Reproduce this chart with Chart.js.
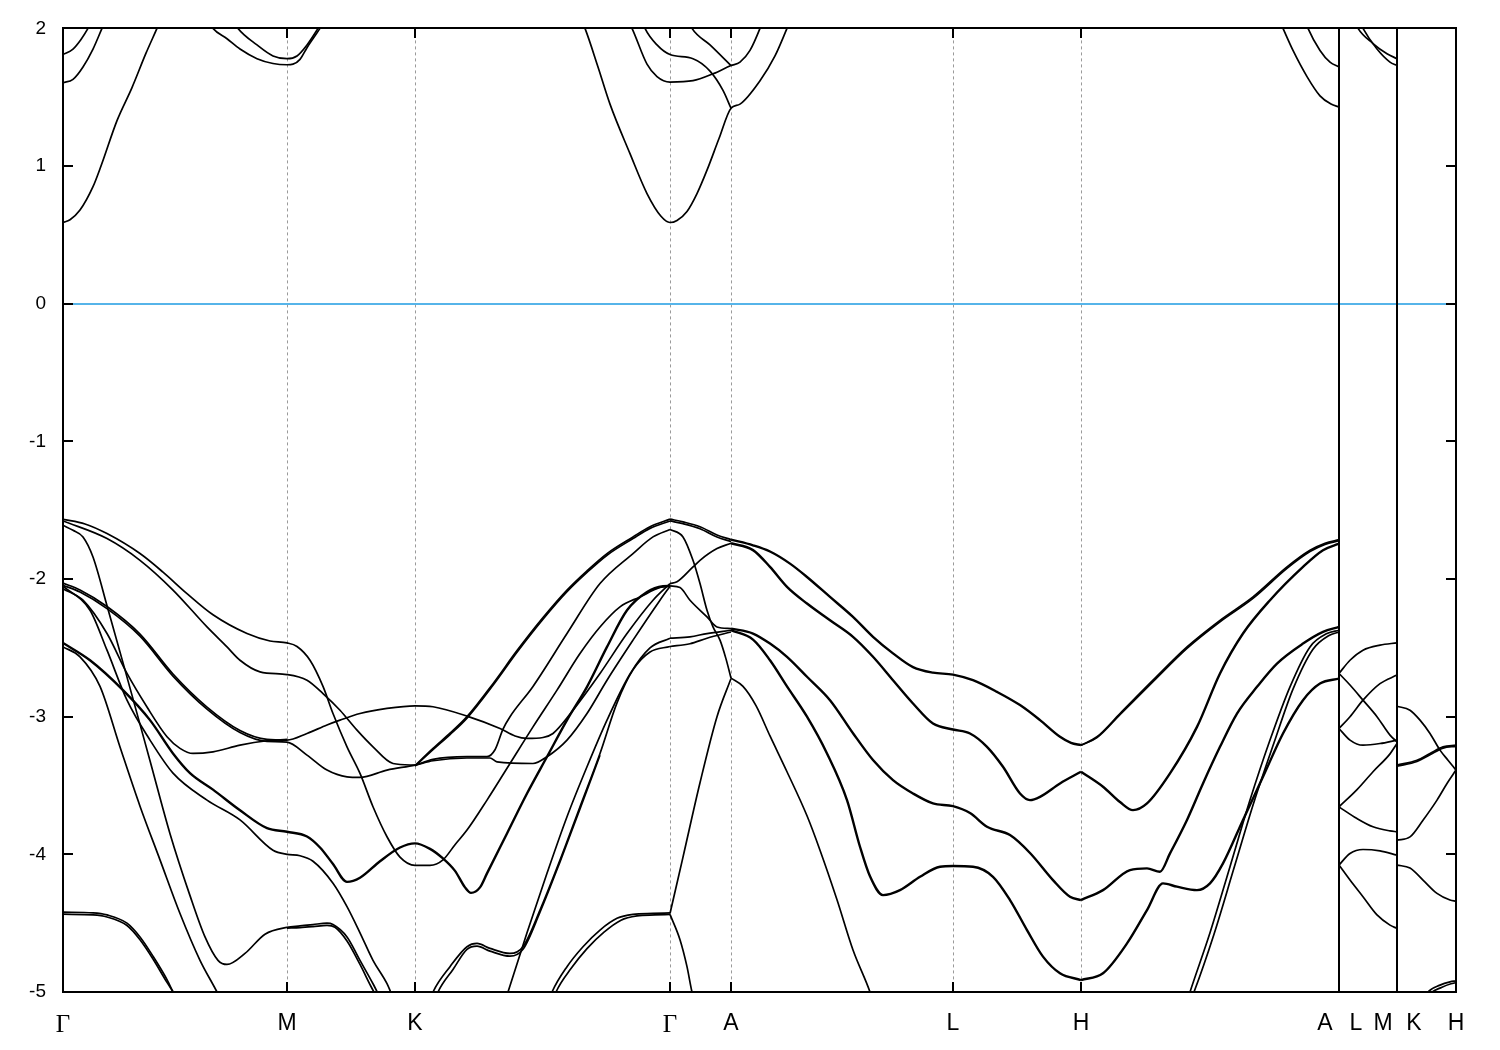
<!DOCTYPE html>
<html><head><meta charset="utf-8">
<script src="https://cdn.jsdelivr.net/npm/chart.js@4.4.1/dist/chart.umd.min.js"></script>
<style>html,body{margin:0;padding:0;background:#fff;}canvas{display:block;}</style>
</head><body>
<canvas id="c" width="1500" height="1050" style="width:1500px;height:1050px"></canvas>
<script>
// k-path (arbitrary path-length units) and labels
const kTicks = [0, 224, 352, 607, 668, 890, 1018, 1276, 1334, 1393];
const kLabels = ['Γ','M','K','Γ','A','L','H','A|L','M|K','H'];
const pathBreaks = [1276, 1334];
const fermi = 0;
const eTicks = [-5, -4, -3, -2, -1, 0, 1, 2];

// conduction bands [k, E(eV)]
const cb1 = [[0,0.59],[7,0.61],[17,0.68],[30,0.85],[38,1.0],[54,1.33],[69,1.57],[83,1.82],[94,2.0],[100,2.1]];
const cb2 = [[0,1.605],[10,1.63],[20,1.72],[30,1.85],[39,2.0],[44,2.08]];
const cb3 = [[0,1.81],[10,1.85],[18,1.92],[25,2.0],[30,2.07]];
const cb4 = [[145,2.06],[150,2.0],[164,1.925],[177,1.85],[194,1.78],[210,1.745],[224,1.736],[230,1.74],[237,1.775],[244,1.86],[257,2.0],[262,2.06]];
const cb5 = [[170,2.06],[175,2.0],[194,1.88],[210,1.80],[224,1.78],[234,1.80],[244,1.88],[255,2.0],[260,2.06]];
const cb6 = [[517,2.08],[522,2.0],[535,1.72],[547,1.45],[567,1.09],[584,0.80],[598,0.635],[607,0.59],[614,0.605],[624,0.67],[634,0.80],[644,0.97],[656,1.2],[668,1.42],[677,1.45],[697,1.62],[712,1.8],[724,2.0],[728,2.07]];
const cb7 = [[563,2.08],[569,2.0],[584,1.74],[594,1.65],[607,1.61],[630,1.62],[650,1.67],[668,1.73],[677,1.755],[687,1.84],[697,2.0],[700,2.06]];
const cb8 = [[578,2.08],[582,2.0],[594,1.88],[607,1.81],[630,1.78],[647,1.69],[660,1.55],[668,1.42]];
const cb9 = [[624,2.08],[629,2.0],[647,1.88],[668,1.73]];
const cb10 = [[1215,2.08],[1220,2.0],[1230,1.84],[1244,1.65],[1257,1.51],[1268,1.45],[1276,1.43]];
const cb11 = [[1241,2.08],[1245,2.0],[1257,1.84],[1267,1.755],[1276,1.72]];
const cb12 = [[1290,2.08],[1295,2.0],[1310,1.89],[1324,1.816],[1334,1.78]];
const cb13 = [[1295,2.08],[1300,2.0],[1314,1.85],[1327,1.755],[1334,1.73]];

// valence bands [k, E(eV)]
const v01 = [[0,-1.566],[22,-1.6],[44,-1.67],[77,-1.815],[100,-1.95],[124,-2.106],[150,-2.26],[184,-2.396],[207,-2.45],[224,-2.464],[234,-2.49],[247,-2.59],[260,-2.78],[270,-2.977],[284,-3.219],[297,-3.412],[310,-3.654],[324,-3.872],[337,-4.02],[352,-4.08],[367,-4.08],[380,-4.04],[392,-3.93],[404,-3.824],[424,-3.606],[447,-3.34],[470,-3.074],[494,-2.807],[517,-2.541],[537,-2.348],[557,-2.202],[577,-2.13],[597,-2.062],[607,-2.05]];
const v02 = [[0,-1.578],[44,-1.706],[77,-1.864],[110,-2.08],[144,-2.348],[164,-2.493],[177,-2.59],[197,-2.674],[224,-2.694],[244,-2.735],[260,-2.832],[277,-2.953],[294,-3.098],[310,-3.219],[330,-3.34],[352,-3.352]];
const v03 = [[0,-1.61],[10,-1.646],[20,-1.694],[30,-1.84],[45,-2.22],[62,-2.66],[87,-3.32],[107,-3.85],[127,-4.3],[142,-4.6],[155,-4.77],[164,-4.80],[182,-4.72],[202,-4.58],[224,-4.53],[237,-4.52],[250,-4.51],[264,-4.50],[270,-4.51],[284,-4.6],[297,-4.77],[310,-4.94],[317,-5.04]];
const v04 = [[224,-4.536],[237,-4.532],[250,-4.525],[264,-4.516],[272,-4.53],[284,-4.63],[297,-4.8],[308,-4.96],[314,-5.04]];
const v05 = [[0,-2.03],[17,-2.08],[44,-2.2],[77,-2.40],[110,-2.69],[144,-2.93],[177,-3.10],[204,-3.165],[224,-3.17],[244,-3.122],[264,-3.06],[277,-3.025],[297,-2.977],[324,-2.94],[352,-2.921],[370,-2.928],[404,-2.996],[437,-3.086],[452,-3.14],[464,-3.158],[480,-3.151],[490,-3.122],[510,-2.953],[537,-2.686],[564,-2.396],[590,-2.154],[607,-2.033]];
const v06 = [[0,-2.045],[17,-2.095],[44,-2.215],[77,-2.415],[110,-2.705],[144,-2.945],[177,-3.115],[204,-3.18],[224,-3.185],[244,-3.279],[264,-3.388],[284,-3.437],[297,-3.441],[324,-3.388],[352,-3.352],[370,-3.32],[404,-3.30],[427,-3.30],[434,-3.328],[470,-3.34],[484,-3.291],[504,-3.17],[524,-2.977],[544,-2.735],[570,-2.444],[597,-2.154],[607,-2.052]];
const v07 = [[0,-2.07],[20,-2.154],[44,-2.396],[64,-2.686],[84,-2.93],[104,-3.146],[117,-3.23],[130,-3.267],[150,-3.255],[177,-3.207],[204,-3.175],[224,-3.165]];
const v08 = [[0,-2.464],[27,-2.59],[60,-2.807],[87,-3.025],[110,-3.267],[127,-3.41],[150,-3.53],[177,-3.68],[204,-3.81],[224,-3.836],[244,-3.87],[257,-3.95],[270,-4.07],[284,-4.2],[297,-4.17],[317,-4.05],[337,-3.95],[352,-3.92],[367,-3.96],[380,-4.03],[392,-4.12],[402,-4.24],[408,-4.28],[417,-4.24],[424,-4.138],[444,-3.848],[464,-3.558],[484,-3.291],[504,-3.025],[524,-2.783],[544,-2.493],[564,-2.227],[584,-2.094],[600,-2.052],[607,-2.05]];
const v09 = [[0,-2.052],[27,-2.227],[44,-2.517],[64,-2.88],[87,-3.17],[110,-3.41],[144,-3.606],[177,-3.75],[210,-3.97],[224,-4.0],[237,-4.01],[250,-4.05],[270,-4.21],[284,-4.38],[297,-4.57],[310,-4.77],[324,-4.94],[330,-5.04]];
const v10 = [[0,-2.493],[17,-2.565],[37,-2.78],[57,-3.22],[77,-3.65],[97,-4.04],[117,-4.43],[137,-4.77],[154,-5.0],[158,-5.06]];
const v11 = [[0,-4.42],[30,-4.425],[44,-4.44],[64,-4.50],[77,-4.60],[90,-4.74],[104,-4.91],[110,-5.0],[114,-5.06]];
const v12 = [[0,-4.435],[30,-4.44],[44,-4.455],[64,-4.517],[77,-4.62],[90,-4.76],[104,-4.93],[112,-5.02],[116,-5.07]];
const v13 = [[352,-3.355],[370,-3.23],[387,-3.12],[404,-3.0],[430,-2.76],[454,-2.52],[480,-2.28],[504,-2.08],[524,-1.94],[544,-1.815],[570,-1.694],[587,-1.62],[607,-1.565]];
const v14 = [[352,-3.36],[370,-3.24],[387,-3.13],[404,-3.01],[430,-2.772],[454,-2.532],[480,-2.292],[504,-2.092],[524,-1.952],[544,-1.827],[570,-1.706],[587,-1.632],[607,-1.578]];
const v15 = [[352,-3.355],[370,-3.31],[404,-3.29],[424,-3.29],[432,-3.24],[440,-3.09],[447,-3.0],[470,-2.78],[504,-2.396],[537,-2.033],[570,-1.815],[590,-1.694],[607,-1.64]];
const v16 = [[367,-5.06],[370,-5.0],[387,-4.816],[404,-4.671],[414,-4.647],[427,-4.683],[447,-4.72],[460,-4.671],[477,-4.405],[497,-4.042],[517,-3.654],[537,-3.267],[554,-2.90],[570,-2.66],[587,-2.53],[607,-2.49]];
const v17 = [[372,-5.06],[375,-5.0],[390,-4.836],[404,-4.69],[414,-4.667],[427,-4.703],[447,-4.74],[460,-4.69],[477,-4.42],[497,-4.055],[517,-3.67],[537,-3.28]];
const v18 = [[442,-5.07],[445,-5.0],[464,-4.57],[484,-4.138],[504,-3.727],[524,-3.364],[544,-3.025],[567,-2.69],[587,-2.5],[607,-2.43]];
const v19 = [[486,-5.06],[489,-5.0],[504,-4.816],[520,-4.671],[537,-4.55],[554,-4.465],[570,-4.436],[590,-4.429],[607,-4.425]];
const v20 = [[490,-5.06],[493,-5.0],[508,-4.83],[524,-4.685],[541,-4.565],[558,-4.478],[574,-4.447],[592,-4.44],[607,-4.436]];
const v21 = [[607,-1.565],[620,-1.585],[637,-1.62],[654,-1.68],[668,-1.714]];
const v22 = [[607,-1.578],[620,-1.598],[637,-1.635],[654,-1.695],[668,-1.728]];
const v23 = [[607,-1.64],[620,-1.694],[630,-1.864],[637,-2.033],[644,-2.227],[650,-2.348],[657,-2.444],[663,-2.58],[668,-2.72]];
const v24 = [[607,-2.033],[614,-2.02],[630,-1.912],[637,-1.864],[654,-1.779],[668,-1.74]];
const v25 = [[607,-2.05],[617,-2.062],[627,-2.154],[644,-2.275],[654,-2.348],[668,-2.36]];
const v26 = [[607,-2.43],[627,-2.42],[644,-2.396],[668,-2.372]];
const v27 = [[607,-2.49],[627,-2.47],[644,-2.43],[668,-2.385]];
const v28 = [[607,-4.43],[620,-4.02],[637,-3.48],[654,-3.0],[668,-2.723]];
const v29 = [[607,-4.436],[617,-4.62],[624,-4.816],[629,-5.0],[632,-5.07]];
const v30 = [[668,-1.714],[690,-1.755],[707,-1.80],[727,-1.888],[744,-1.985],[767,-2.13],[790,-2.275],[810,-2.42],[830,-2.54],[850,-2.64],[870,-2.68],[890,-2.694],[910,-2.735],[934,-2.82],[957,-2.916],[977,-3.025],[997,-3.146],[1008,-3.19],[1018,-3.207]];
const v31 = [[668,-1.74],[690,-1.79],[707,-1.912],[724,-2.057],[744,-2.178],[767,-2.30],[790,-2.42],[810,-2.565],[830,-2.735],[850,-2.904],[870,-3.05],[890,-3.093],[907,-3.122],[924,-3.219],[940,-3.364],[957,-3.558],[967,-3.606],[977,-3.582],[997,-3.485],[1018,-3.40]];
const v32 = [[668,-2.36],[690,-2.396],[707,-2.469],[724,-2.565],[744,-2.71],[767,-2.88],[790,-3.12],[810,-3.315],[830,-3.461],[850,-3.558],[870,-3.63],[890,-3.65],[907,-3.70],[924,-3.80],[947,-3.86],[967,-3.99],[990,-4.187],[1007,-4.308],[1018,-4.332]];
const v33 = [[668,-2.372],[690,-2.44],[707,-2.59],[724,-2.78],[744,-3.0],[764,-3.267],[784,-3.606],[797,-3.945],[807,-4.16],[820,-4.296],[837,-4.26],[857,-4.163],[877,-4.09],[890,-4.085],[910,-4.09],[930,-4.163],[947,-4.332],[964,-4.55],[980,-4.743],[997,-4.864],[1018,-4.913]];
const v34 = [[668,-2.72],[680,-2.78],[693,-2.92],[707,-3.14],[724,-3.4],[744,-3.72],[757,-3.97],[774,-4.33],[790,-4.695],[807,-5.0],[810,-5.07]];
const v35 = [[1018,-3.207],[1034,-3.146],[1057,-2.977],[1090,-2.735],[1124,-2.493],[1157,-2.30],[1190,-2.13],[1224,-1.912],[1247,-1.791],[1262,-1.74],[1276,-1.714]];
const v36 = [[1018,-3.207],[1034,-3.152],[1057,-2.985],[1090,-2.745],[1124,-2.503],[1157,-2.31],[1190,-2.14],[1224,-1.922],[1247,-1.80],[1262,-1.748],[1276,-1.722]];
const v37 = [[1018,-3.40],[1040,-3.509],[1057,-3.62],[1070,-3.679],[1084,-3.63],[1107,-3.412],[1134,-3.074],[1157,-2.686],[1180,-2.396],[1207,-2.154],[1240,-1.912],[1260,-1.791],[1276,-1.743]];
const v38 = [[1018,-4.332],[1040,-4.26],[1067,-4.114],[1084,-4.102],[1097,-4.126],[1107,-3.993],[1124,-3.75],[1140,-3.485],[1157,-3.219],[1174,-2.977],[1194,-2.783],[1214,-2.614],[1240,-2.469],[1260,-2.384],[1276,-2.348]];
const v39 = [[1018,-4.913],[1040,-4.864],[1064,-4.647],[1084,-4.405],[1100,-4.211],[1114,-4.235],[1134,-4.26],[1147,-4.211],[1160,-4.066],[1180,-3.75],[1200,-3.437],[1220,-3.122],[1240,-2.88],[1257,-2.759],[1276,-2.723]];
const v40 = [[1124,-5.07],[1127,-5.0],[1147,-4.57],[1167,-4.09],[1187,-3.606],[1207,-3.17],[1227,-2.783],[1247,-2.493],[1264,-2.396],[1276,-2.372]];
const v41 = [[1127,-5.07],[1131,-5.0],[1151,-4.58],[1171,-4.1],[1191,-3.62],[1211,-3.19],[1230,-2.80],[1250,-2.51],[1266,-2.41],[1276,-2.385]];
const v42 = [[1276,-2.686],[1287,-2.59],[1300,-2.517],[1317,-2.48],[1334,-2.464]];
const v43 = [[1276,-2.686],[1287,-2.77],[1300,-2.88],[1314,-3.0],[1327,-3.134],[1334,-3.183]];
const v44 = [[1276,-3.086],[1287,-3.0],[1300,-2.88],[1317,-2.76],[1334,-2.698]];
const v45 = [[1276,-3.086],[1287,-3.17],[1300,-3.207],[1317,-3.195],[1334,-3.17]];
const v46 = [[1276,-3.655],[1294,-3.53],[1310,-3.40],[1327,-3.27],[1334,-3.195]];
const v47 = [[1276,-3.655],[1294,-3.74],[1310,-3.80],[1327,-3.83],[1334,-3.836]];
const v48 = [[1276,-4.078],[1287,-3.994],[1300,-3.965],[1317,-3.975],[1334,-4.006]];
const v49 = [[1276,-4.078],[1287,-4.187],[1300,-4.308],[1314,-4.44],[1327,-4.514],[1334,-4.538]];
const v50 = [[1334,-2.924],[1347,-2.953],[1357,-3.025],[1367,-3.122],[1377,-3.243],[1385,-3.316],[1393,-3.388]];
const v51 = [[1334,-3.352],[1354,-3.316],[1367,-3.267],[1380,-3.219],[1393,-3.207]];
const v52 = [[1334,-3.36],[1354,-3.325],[1367,-3.277],[1380,-3.228],[1393,-3.215]];
const v53 = [[1334,-3.897],[1347,-3.873],[1360,-3.752],[1374,-3.606],[1384,-3.485],[1393,-3.388]];
const v54 = [[1334,-4.078],[1347,-4.10],[1360,-4.187],[1374,-4.284],[1387,-4.332],[1393,-4.34]];
const v55 = [[1361,-5.06],[1364,-5.01],[1377,-4.95],[1387,-4.926],[1393,-4.92]];
const v56 = [[1362,-5.07],[1366,-5.02],[1379,-4.965],[1388,-4.94],[1393,-4.932]];

const bands = [cb1,cb2,cb3,cb4,cb5,cb6,cb7,cb8,cb9,cb10,cb11,cb12,cb13,
  v01,v02,v03,v04,v05,v06,v07,v08,v09,v10,v11,v12,v13,v14,v15,v16,v17,v18,v19,v20,
  v21,v22,v23,v24,v25,v26,v27,v28,v29,v30,v31,v32,v33,v34,v35,v36,v37,v38,v39,v40,
  v41,v42,v43,v44,v45,v46,v47,v48,v49,v50,v51,v52,v53,v54,v55,v56];
// near-degenerate (visually heavier) bands
const heavyBands = [v30, v31, v32, v33, v37, v38, v39, v08];

// tick label entries (split labels for path discontinuities)
const splitGap = [14, 17];
const xTickList = [];
kTicks.forEach((k, i) => {
  const parts = kLabels[i].split('|');
  if (parts.length === 1) xTickList.push({k: k, label: parts[0]});
  else { xTickList.push({k: k - splitGap[0], label: parts[0]}); xTickList.push({k: k + splitGap[1], label: parts[1]}); }
});

const datasets = bands.map(b => ({
  data: b.map(p => ({x: p[0], y: p[1]})),
  borderColor: '#000', borderWidth: heavyBands.includes(b) ? 2.4 : 1.7, pointRadius: 0, fill: false,
  cubicInterpolationMode: 'monotone'
}));

const decor = {
  id: 'decor',
  beforeDatasetsDraw(chart) {
    const {ctx, chartArea: a, scales: {x, y}} = chart;
    ctx.save();
    ctx.strokeStyle = '#9a9a9a'; ctx.lineWidth = 1; ctx.setLineDash([3, 3]);
    kTicks.forEach(k => {
      if (pathBreaks.includes(k) || k === kTicks[0] || k === kTicks[kTicks.length - 1]) return;
      const px = Math.round(x.getPixelForValue(k)) + 0.5;
      ctx.beginPath(); ctx.moveTo(px, a.top); ctx.lineTo(px, a.bottom); ctx.stroke();
    });
    ctx.setLineDash([]);
    ctx.strokeStyle = '#56b4e9'; ctx.lineWidth = 2;
    const py = Math.round(y.getPixelForValue(fermi));
    ctx.beginPath(); ctx.moveTo(a.left, py); ctx.lineTo(a.right, py); ctx.stroke();
    ctx.restore();
  },
  afterDatasetsDraw(chart) {
    const {ctx, chartArea: a, scales: {x, y}} = chart;
    ctx.save();
    ctx.strokeStyle = '#000'; ctx.lineWidth = 2; ctx.setLineDash([]);
    pathBreaks.forEach(k => {
      const px = Math.round(x.getPixelForValue(k));
      ctx.beginPath(); ctx.moveTo(px, a.top); ctx.lineTo(px, a.bottom); ctx.stroke();
    });
    const L = Math.round(a.left), R = Math.round(a.right), T = Math.round(a.top), B = Math.round(a.bottom);
    ctx.strokeRect(L, T, R - L, B - T);
    const tl = 10;
    eTicks.forEach(e => {
      const py = Math.round(y.getPixelForValue(e));
      ctx.beginPath(); ctx.moveTo(L, py); ctx.lineTo(L + tl, py); ctx.moveTo(R, py); ctx.lineTo(R - tl, py); ctx.stroke();
    });
    kTicks.forEach(k => {
      const px = Math.round(x.getPixelForValue(k));
      ctx.beginPath(); ctx.moveTo(px, B); ctx.lineTo(px, B - tl); ctx.moveTo(px, T); ctx.lineTo(px, T + tl); ctx.stroke();
    });
    ctx.restore();
  }
};

new Chart(document.getElementById('c'), {
  type: 'line',
  data: {datasets},
  options: {
    responsive: false, animation: false, devicePixelRatio: 1,
    layout: {padding: {left: 0, right: 44, top: 28, bottom: 0}},
    plugins: {legend: {display: false}, tooltip: {enabled: false}},
    scales: {
      x: {
        type: 'linear', min: 0, max: kTicks[kTicks.length - 1],
        grid: {display: false, drawTicks: false}, border: {display: false},
        afterBuildTicks: s => { s.ticks = xTickList.map(t => ({value: t.k})); },
        afterFit: s => { s.height = 58; },
        ticks: {
          autoSkip: false, maxRotation: 0, minRotation: 0, padding: 18, color: '#000',
          font: ctx => (xTickList[ctx.index] && xTickList[ctx.index].label === 'Γ')
            ? {family: "'Liberation Serif', 'DejaVu Serif', serif", size: 25}
            : {family: "'Liberation Sans', Arial, sans-serif", size: 23},
          callback: (v, i) => xTickList[i] ? xTickList[i].label : ''
        }
      },
      y: {
        min: eTicks[0], max: eTicks[eTicks.length - 1],
        grid: {display: false, drawTicks: false}, border: {display: false},
        afterFit: s => { s.width = 63; },
        ticks: {stepSize: 1, padding: 17, color: '#000', font: {family: "'Liberation Sans', Arial, sans-serif", size: 19}}
      }
    }
  },
  plugins: [decor]
});
</script>
</body></html>
